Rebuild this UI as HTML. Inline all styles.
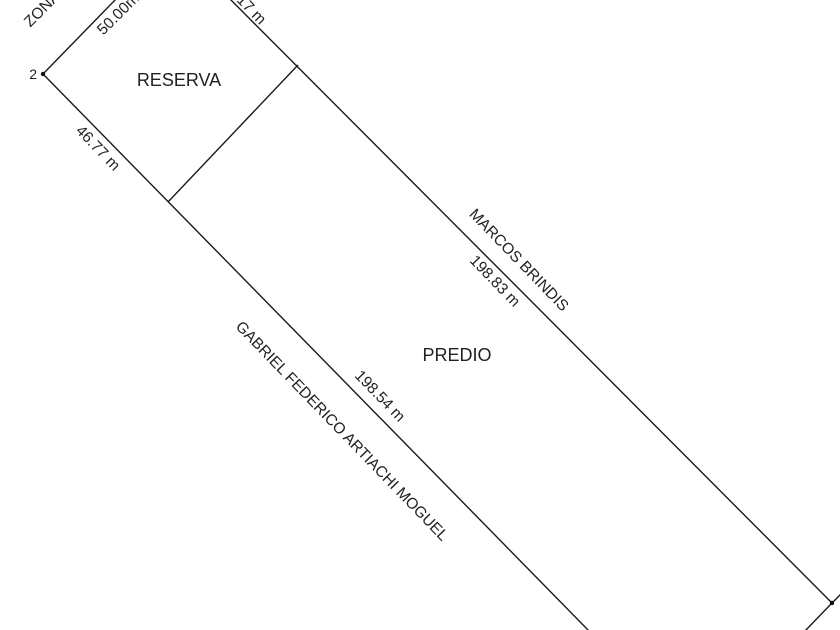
<!DOCTYPE html>
<html><head><meta charset="utf-8"><style>html,body{margin:0;padding:0;background:#fff;}svg{display:block}</style></head>
<body>
<svg width="840" height="630" viewBox="0 0 840 630" xmlns="http://www.w3.org/2000/svg" font-family="Liberation Sans, sans-serif" fill="#222">
<g stroke="#1a1a1a" stroke-width="1.4" fill="none">
<line x1="43" y1="74" x2="117" y2="-2"/>
<line x1="43" y1="74" x2="590" y2="632"/>
<line x1="229" y1="-2" x2="832" y2="603"/>
<line x1="298" y1="65" x2="168" y2="202"/>
<line x1="832" y1="603" x2="843" y2="592"/>
<line x1="832" y1="603" x2="804" y2="632"/>
</g>
<circle cx="43" cy="74" r="2.2" fill="#111"/>
<circle cx="832" cy="603" r="2.2" fill="#111"/>
<text x="37" y="79" font-size="14" text-anchor="end">2</text>
<text x="179" y="86" font-size="18" text-anchor="middle">RESERVA</text>
<text x="457" y="361" font-size="18" text-anchor="middle">PREDIO</text>
<g font-size="15.5" text-anchor="middle">
<text transform="translate(342,431) rotate(46)" y="5">GABRIEL FEDERICO ARTIACHI MOGUEL</text>
<text transform="translate(380,396) rotate(46)" y="5">198.54 m</text>
<text transform="translate(519,260) rotate(46)" y="5">MARCOS BRINDIS</text>
<text transform="translate(495,281) rotate(46)" y="5">198.83 m</text>
<text transform="translate(98,148) rotate(46)" y="5">46.77 m</text>
<text transform="translate(250,8) rotate(46)" y="5">.17 m</text>
<text transform="translate(118,14) rotate(-45)" y="5">50.00m</text>
<text transform="translate(42,9) rotate(-45)" y="5">ZONA</text>
</g>
</svg>
</body></html>
